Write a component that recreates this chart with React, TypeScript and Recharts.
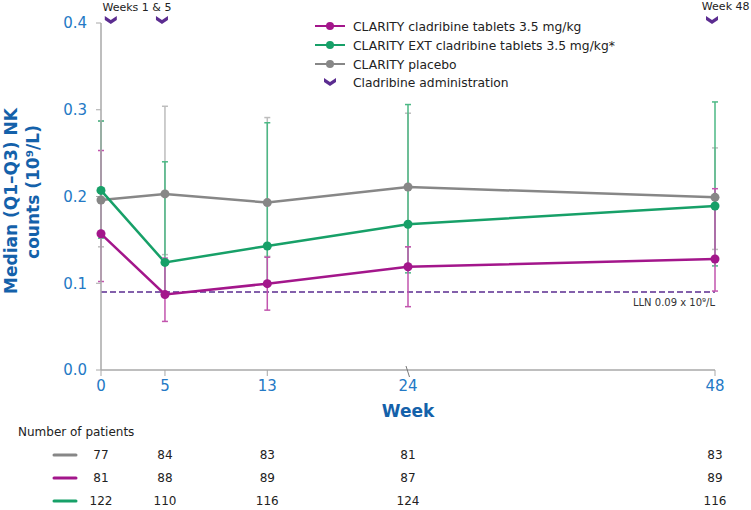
import React from 'react';
import { LineChart, Line, XAxis, YAxis, ErrorBar, ReferenceLine, ReferenceDot, Legend } from 'recharts';

// weeks on the x axis
const weeks = [0, 5, 13, 24, 48];
const adminWeeks = [1, 5, 48];
const yTicks = [0, 0.1, 0.2, 0.3, 0.4];
const lln = 0.09;

// median and Q1/Q3 NK counts (10^9/L)
const placeboMedian = [0.196, 0.203, 0.193, 0.211, 0.199];
const placeboQ1 = [0.142, 0.133, 0.131, 0.142, 0.139];
const placeboQ3 = [0.287, 0.304, 0.291, 0.296, 0.256];

const cladMedian = [0.157, 0.087, 0.0995, 0.119, 0.128];
const cladQ1 = [0.102, 0.056, 0.069, 0.073, 0.091];
const cladQ3 = [0.253, 0.129, 0.13, 0.142, 0.209];

const extMedian = [0.207, 0.124, 0.143, 0.168, 0.189];
const extQ1 = [0.152, 0.09, 0.1, 0.112, 0.12];
const extQ3 = [0.287, 0.24, 0.285, 0.306, 0.309];

// number of patients per visit
const patientsPlacebo = [77, 84, 83, 81, 83];
const patientsClad = [81, 88, 89, 87, 89];
const patientsExt = [122, 110, 116, 124, 116];

const GRAY = '#878787';
const GREEN = '#17a068';
const MAGENTA = '#a3168b';
const PURPLE = '#5b2c90';
const BLUE = '#2479c5';
const DARK_BLUE = '#1461aa';
const AXIS = '#a8a8a8';
const FONT = 'DejaVu Sans';

const data = weeks.map((week, i) => ({
  week,
  placebo: placeboMedian[i],
  placeboErr: [placeboMedian[i] - placeboQ1[i], placeboQ3[i] - placeboMedian[i]],
  clad: cladMedian[i],
  cladErr: [cladMedian[i] - cladQ1[i], cladQ3[i] - cladMedian[i]],
  ext: extMedian[i],
  extErr: [extMedian[i] - extQ1[i], extQ3[i] - extMedian[i]],
}));

const legendItems = [
  { name: 'CLARITY cladribine tablets 3.5 mg/kg', color: MAGENTA },
  { name: 'CLARITY EXT cladribine tablets 3.5 mg/kg*', color: GREEN },
  { name: 'CLARITY placebo', color: GRAY },
];

const chevron = (x: number, y: number) =>
  `M${x - 6},${y - 4} L${x},${y} L${x + 6},${y - 4} L${x + 6},${y} L${x},${y + 4} L${x - 6},${y} Z`;

function LegendBox() {
  return (
    <svg width={330} height={80} style={{ display: 'block' }}>
      {legendItems.map((it, i) => (
        <g key={it.name}>
          <line x1={5} x2={35} y1={12 + i * 19} y2={12 + i * 19} stroke={it.color} strokeWidth={2} />
          <circle cx={20} cy={12 + i * 19} r={4} fill={it.color} />
          <text x={43} y={16.5 + i * 19} fontSize={12.3} fill="#222" fontFamily={FONT}>{it.name}</text>
        </g>
      ))}
      <path d={chevron(20, 68)} fill={PURPLE} />
      <text x={43} y={72.5} fontSize={12.3} fill="#222" fontFamily={FONT}>Cladribine administration</text>
    </svg>
  );
}

function WeekTick(props: any) {
  const { x, y, payload } = props;
  return (
    <g>
      {payload.value === 24 ? (
        <line x1={x - 2} y1={y - 4} x2={x + 1.5} y2={y + 7} stroke="#777" strokeWidth={1} />
      ) : (
        <line x1={x} y1={y} x2={x} y2={y + 6} stroke={AXIS} strokeWidth={1} />
      )}
      <text x={x} y={y + 20.5} textAnchor="middle" fontSize={15} fill={BLUE} fontFamily={FONT}>
        {payload.value}
      </text>
    </g>
  );
}

const countTick = (counts: number[]) => (props: any) => {
  const { x, y, payload } = props;
  return (
    <text x={x} y={y + 27} textAnchor="middle" fontSize={12} fill="#222" fontFamily={FONT}>
      {counts[weeks.indexOf(payload.value)]}
    </text>
  );
};

const rowLabel = (color: string, title: boolean) => (props: any) => {
  const vb = props.viewBox || props;
  const y = vb.y + 23;
  return (
    <g>
      {title && (
        <text x={18} y={vb.y + 4} fontSize={12} fill="#222" fontFamily={FONT}>Number of patients</text>
      )}
      <line x1={54} x2={76} y1={y} y2={y} stroke={color} strokeWidth={3} strokeLinecap="round" />
    </g>
  );
};

const weekLabel = (props: any) => {
  const vb = props.viewBox || props;
  return (
    <text x={vb.x + vb.width / 2} y={vb.y + 47} textAnchor="middle" fontSize={17} fontWeight="bold" fill={DARK_BLUE} fontFamily={FONT}>
      Week
    </text>
  );
};

const yLabel = () => (
  <g fill={DARK_BLUE} fontWeight="bold" fontSize={17} fontFamily={FONT}>
    <text transform="translate(11,201) rotate(-90)" textAnchor="middle" dominantBaseline="central">Median (Q1–Q3) NK</text>
    <text transform="translate(33,192) rotate(-90)" textAnchor="middle" dominantBaseline="central">counts (10⁹/L)</text>
  </g>
);

const llnLabel = (props: any) => {
  const vb = props.viewBox || props;
  return (
    <text x={vb.x + vb.width} y={vb.y + 14.5} textAnchor="end" fontSize={10} fill="#333" fontFamily={FONT}>
      LLN 0.09 x 10⁹/L
    </text>
  );
};

const adminShape = (week: number) => (props: any) => {
  const { cx, cy } = props;
  return (
    <g>
      <path d={chevron(cx - 3, cy - 3)} fill={PURPLE} />
      {week === 5 && (
        <text x={cx - 28} y={cy - 12} textAnchor="middle" fontSize={11} fill="#222" fontFamily={FONT}>Weeks 1 &amp; 5</text>
      )}
      {week === 48 && (
        <text x={749.5} y={cy - 13} textAnchor="end" fontSize={11} fill="#222" fontFamily={FONT}>Week 48</text>
      )}
    </g>
  );
};

export default function App() {
  return (
    <div style={{ position: 'absolute', left: 0, top: 0, width: 751, height: 510, background: '#fff', fontFamily: FONT }}>
      <LineChart width={751} height={510} data={data} margin={{ top: 23, right: 36, bottom: 10, left: 0 }}>
        <XAxis
          dataKey="week"
          type="number"
          domain={[0, 48]}
          ticks={weeks}
          interval={0}
          height={62}
          tickLine={false}
          tickSize={0}
          tickMargin={0}
          axisLine={{ stroke: AXIS, strokeWidth: 1.5 }}
          tick={<WeekTick />}
          label={weekLabel}
        />
        <XAxis xAxisId="row1" dataKey="week" type="number" domain={[0, 48]} ticks={weeks} interval={0} height={23}
          axisLine={false} tickLine={false} tickSize={0} tickMargin={0} tick={countTick(patientsPlacebo)} label={rowLabel(GRAY, true)} />
        <XAxis xAxisId="row2" dataKey="week" type="number" domain={[0, 48]} ticks={weeks} interval={0} height={23}
          axisLine={false} tickLine={false} tickSize={0} tickMargin={0} tick={countTick(patientsClad)} label={rowLabel(MAGENTA, false)} />
        <XAxis xAxisId="row3" dataKey="week" type="number" domain={[0, 48]} ticks={weeks} interval={0} height={22}
          axisLine={false} tickLine={false} tickSize={0} tickMargin={0} tick={countTick(patientsExt)} label={rowLabel(GREEN, false)} />
        <YAxis
          type="number"
          domain={[0, 0.4]}
          ticks={yTicks}
          interval={0}
          width={101}
          tickSize={5}
          tickMargin={9}
          tickFormatter={(v: number) => v.toFixed(1)}
          tick={{ fill: BLUE, fontSize: 15, fontFamily: FONT }}
          tickLine={{ stroke: AXIS }}
          axisLine={{ stroke: AXIS, strokeWidth: 1.5 }}
          label={yLabel}
        />
        <ReferenceLine y={lln} stroke={PURPLE} strokeWidth={1.5} strokeDasharray="6 3" label={llnLabel} />
        <Line dataKey="placebo" stroke={GRAY} strokeWidth={2.5} dot={{ r: 4.5, fill: GRAY, stroke: GRAY, strokeWidth: 0 }} activeDot={false} isAnimationActive={false}>
          <ErrorBar dataKey="placeboErr" width={3} stroke="#bdbdbd" strokeWidth={1.5} direction="y" isAnimationActive={false} />
        </Line>
        <Line dataKey="ext" stroke={GREEN} strokeWidth={2.5} dot={{ r: 4.5, fill: GREEN, stroke: GREEN, strokeWidth: 0 }} activeDot={false} isAnimationActive={false}>
          <ErrorBar dataKey="extErr" width={3} stroke="#4cb885" strokeWidth={1.5} direction="y" isAnimationActive={false} />
        </Line>
        <Line dataKey="clad" stroke={MAGENTA} strokeWidth={2.5} dot={{ r: 4.5, fill: MAGENTA, stroke: MAGENTA, strokeWidth: 0 }} activeDot={false} isAnimationActive={false}>
          <ErrorBar dataKey="cladErr" width={3} stroke="#c255ae" strokeWidth={1.5} direction="y" isAnimationActive={false} />
        </Line>
        {adminWeeks.map((w) => (
          <ReferenceDot key={w} x={w} y={0.4} ifOverflow="visible" shape={adminShape(w)} />
        ))}
        <Legend
          layout="horizontal"
          verticalAlign="middle"
          align="center"
          wrapperStyle={{ top: 14, left: 310, width: 330, height: 80 }}
          content={() => <LegendBox />}
        />
      </LineChart>
    </div>
  );
}
